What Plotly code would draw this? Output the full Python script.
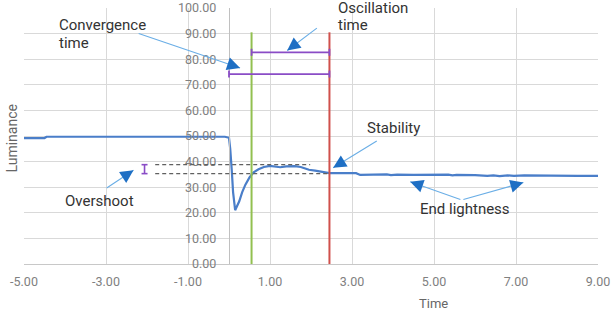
import math
import plotly.graph_objects as go

# ---------------- data ----------------
time_s = [-5.0, -4.5, -4.45, -1.0, -0.1, 0.0, 0.03, 0.07, 0.1, 0.15, 0.2, 0.25,
          0.32, 0.4, 0.5, 0.6, 0.72, 0.85, 1.0, 1.15, 1.25, 1.4, 1.6, 1.75,
          1.85, 1.95, 2.1, 2.3, 2.45, 2.7, 3.0, 3.1, 3.2, 3.5, 3.75, 3.85,
          3.95, 4.1, 4.5, 5.0, 5.35, 5.45, 5.55, 6.0, 6.3, 6.45, 6.6, 6.8,
          6.95, 7.2, 7.6, 7.9, 8.0, 8.5, 9.0]
luminance = [49.2, 49.2, 49.7, 49.7, 49.7, 49.3, 45.0, 36.0, 28.0, 21.0, 22.5, 24.5,
             28.0, 31.0, 33.8, 35.8, 37.0, 37.9, 38.3, 38.0, 37.8, 38.1, 38.2, 37.9,
             37.3, 36.8, 36.5, 35.9, 35.5, 35.5, 35.6, 35.5, 34.8, 34.9, 34.7, 35.0,
             34.7, 34.9, 34.8, 34.8, 34.9, 34.6, 34.8, 34.7, 34.4, 34.6, 34.3, 34.6,
             34.4, 34.6, 34.5, 34.3, 34.5, 34.4, 34.4]

x_ticks = [-5, -3, -1, 1, 3, 5, 7, 9]
x_tick_labels = ["-5.00", "-3.00", "-1.00", "1.00", "3.00", "5.00", "7.00", "9.00"]
y_ticks = [0, 10, 20, 30, 40, 50, 60, 70, 80, 90, 100]
y_tick_labels = ["0.00", "10.00", "20.00", "30.00", "40.00", "50.00",
                 "60.00", "70.00", "80.00", "90.00", "100.00"]

step_time = 0.0          # start of transition
oscillation_start = 0.55  # green marker
stable_time = 2.45        # red marker
marker_top = 90.5
convergence_bar_y = 74.2
oscillation_bar_y = 82.7
overshoot_level = 38.8
end_level = 35.3
overshoot_marker_x = -2.06
dash_start_x = -1.8
overshoot_dash_end = 1.98

# ---------------- styling ----------------
W, H = 611, 320
ML, MR, MT, MB = 24, 13, 8, 56
X_RANGE = [-5, 9]
Y_RANGE = [0, 100]
PXX = (W - ML - MR) / (X_RANGE[1] - X_RANGE[0])
PXY = (H - MT - MB) / (Y_RANGE[1] - Y_RANGE[0])

LINE_BLUE = "#4a7ec9"
GREEN = "#92c050"
RED = "#d0504c"
PURPLE = "#8a4cc6"
DASH_GREY = "#606060"
ARROW_LIGHT = "#6aaee6"
ARROW_DARK = "#1e6fc4"
TEXT = "#333333"
FONT = "Roboto"

fig = go.Figure()
fig.add_trace(go.Scatter(x=time_s, y=luminance, mode="lines",
                         line=dict(color=LINE_BLUE, width=2.2),
                         hoverinfo="skip", showlegend=False))

shapes = []
# vertical markers
shapes.append(dict(type="line", xref="x", yref="y", x0=oscillation_start, x1=oscillation_start,
                   y0=0, y1=marker_top, line=dict(color=GREEN, width=2)))
shapes.append(dict(type="line", xref="x", yref="y", x0=stable_time, x1=stable_time,
                   y0=0, y1=marker_top, line=dict(color=RED, width=2)))
# dashed overshoot lines
shapes.append(dict(type="line", xref="x", yref="y", x0=dash_start_x, x1=overshoot_dash_end,
                   y0=overshoot_level, y1=overshoot_level,
                   line=dict(color=DASH_GREY, width=1.2, dash="4px,3px")))
shapes.append(dict(type="line", xref="x", yref="y", x0=dash_start_x, x1=stable_time,
                   y0=end_level, y1=end_level,
                   line=dict(color=DASH_GREY, width=1.2, dash="4px,3px")))


def hbar(x0, x1, y):
    shapes.append(dict(type="line", xref="x", yref="y", x0=x0, x1=x1, y0=y, y1=y,
                       line=dict(color=PURPLE, width=1.8)))
    for xx in (x0, x1):
        shapes.append(dict(type="line", xref="x", yref="y", ysizemode="pixel", yanchor=y,
                           x0=xx, x1=xx, y0=-3.5, y1=3.5, line=dict(color=PURPLE, width=1.8)))


hbar(oscillation_start, stable_time, oscillation_bar_y)
hbar(step_time, stable_time, convergence_bar_y)

# overshoot I-bar
shapes.append(dict(type="line", xref="x", yref="y", x0=overshoot_marker_x, x1=overshoot_marker_x,
                   y0=end_level, y1=overshoot_level, line=dict(color=PURPLE, width=1.6)))
for yy in (end_level, overshoot_level):
    shapes.append(dict(type="line", xref="x", yref="y", xsizemode="pixel", xanchor=overshoot_marker_x,
                       x0=-3, x1=3, y0=yy, y1=yy, line=dict(color=PURPLE, width=1.6)))

fig.update_layout(shapes=shapes)


def arrow(tip, tail):
    fig.add_annotation(x=tip[0], y=tip[1], ax=tail[0], ay=tail[1], xref="x", yref="y",
                       axref="x", ayref="y", text="", showarrow=True, arrowhead=0,
                       arrowwidth=1.1, arrowcolor=ARROW_LIGHT)
    dx = (tail[0] - tip[0]) * PXX
    dy = -(tail[1] - tip[1]) * PXY
    L = math.hypot(dx, dy)
    fig.add_annotation(x=tip[0], y=tip[1], ax=dx / L * 8, ay=dy / L * 8, xref="x", yref="y",
                       text="", showarrow=True, arrowhead=2, arrowsize=1.3,
                       arrowwidth=2, arrowcolor=ARROW_DARK)


arrow((0.27, 76.6), (-2.24, 90.2))      # convergence
arrow((1.42, 83.4), (2.18, 92.6))       # oscillation
arrow((2.54, 37.6), (3.64, 48.4))       # stability
arrow((-2.33, 36.6), (-3.02, 29.3))     # overshoot
arrow((4.42, 32.1), (5.68, 25.0))       # end lightness left
arrow((7.18, 31.8), (5.68, 25.0))       # end lightness right

labels = [
    ("Convergence", -4.19, 93.2, "left"),
    ("time", -4.19, 86.3, "left"),
    ("Oscillation", 2.62, 99.9, "left"),
    ("time", 2.62, 93.2, "left"),
    ("Stability", 4.01, 53.3, "center"),
    ("Overshoot", -3.17, 24.8, "center"),
    ("End lightness", 5.75, 21.3, "center"),
]
for txt, x, y, anc in labels:
    fig.add_annotation(x=x, y=(y - Y_RANGE[0]) / (Y_RANGE[1] - Y_RANGE[0]),
                       xref="x", yref="paper", text=txt, showarrow=False,
                       xanchor=anc, yanchor="middle", align="left",
                       font=dict(family=FONT, size=15, color=TEXT))

fig.add_annotation(x=(12 - ML) / (W - ML - MR), y=0.49, xref="paper", yref="paper",
                   text="Luminance", textangle=-90, showarrow=False,
                   xanchor="center", yanchor="middle",
                   font=dict(family=FONT, size=14, color="#666666"))
fig.add_annotation(x=(433 - ML) / (W - ML - MR), y=(264 - 303) / (H - MT - MB),
                   xref="paper", yref="paper",
                   text="Time", showarrow=False, xanchor="center", yanchor="middle",
                   font=dict(family=FONT, size=13, color="#666666"))

fig.update_layout(
    template="none",
    width=W, height=H, margin=dict(l=ML, r=MR, t=MT, b=MB, pad=0, autoexpand=False),
    plot_bgcolor="white", paper_bgcolor="white", showlegend=False,
    xaxis=dict(range=X_RANGE, tickvals=x_ticks, ticktext=x_tick_labels, automargin=False,
               showgrid=True, gridcolor="#d9d9d9", gridwidth=1, zeroline=False,
               showline=True, linecolor="#c8c8c8", linewidth=1, ticks="",
               ticklabelstandoff=6,
               tickfont=dict(family=FONT, size=12.5, color="#808080")),
    yaxis=dict(range=Y_RANGE, tickvals=y_ticks, ticktext=y_tick_labels, automargin=False,
               anchor="free", position=(0 - X_RANGE[0]) / (X_RANGE[1] - X_RANGE[0]),
               showgrid=True, gridcolor="#d9d9d9", gridwidth=1, zeroline=False,
               showline=True, linecolor="#c0c0c0", linewidth=1.3, ticks="",
               ticklabelstandoff=10,
               tickfont=dict(family=FONT, size=12.5, color="#808080")),
)

fig.write_html("out.html", config={"displayModeBar": False},
               post_script="document.body.style.margin='0';document.body.style.overflow='hidden';")
